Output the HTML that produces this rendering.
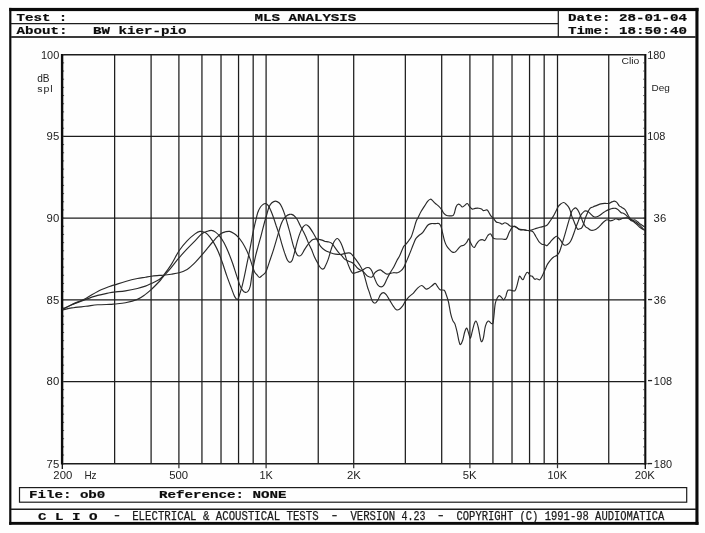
<!DOCTYPE html>
<html lang="en"><head><meta charset="utf-8"><title>MLS ANALYSIS</title>
<style>
html,body{margin:0;padding:0;background:#fff;}
body{width:705px;height:533px;overflow:hidden;}
svg{display:block;will-change:transform;transform:translateZ(0);}
.b,.t{white-space:pre;}
.b{font-family:"Liberation Mono",monospace;font-weight:bold;font-size:11.5px;fill:#0c0c0c;stroke:#0c0c0c;stroke-width:0.2px;}
.t{font-family:"Liberation Mono",monospace;font-weight:normal;font-size:12.3px;fill:#1a1a1a;stroke:#1a1a1a;stroke-width:0.25px;}
.s{font-family:"Liberation Sans",sans-serif;font-size:10.4px;fill:#222;}
</style></head><body>
<svg width="705" height="533" viewBox="0 0 705 533">
<rect x="0" y="0" width="705" height="533" fill="#fefefe"/>
<g fill="#0a0a0a">
<rect x="9.2" y="7.9" width="689.3" height="3.2"/>
<rect x="9.2" y="521.9" width="689.3" height="2.9"/>
<rect x="9.2" y="7.9" width="2.2" height="516.9"/>
<rect x="695.4" y="7.9" width="3.1" height="516.9"/>
</g>
<g stroke="#1c1c1c" fill="none">
<line x1="11" y1="23.6" x2="558.3" y2="23.6" stroke-width="1.2"/>
<line x1="11" y1="37" x2="696" y2="37" stroke-width="1.9" stroke="#3a3a3a"/>
<line x1="558.3" y1="10" x2="558.3" y2="37" stroke-width="1.25"/>
<line x1="11" y1="509.2" x2="696" y2="509.2" stroke-width="1.4"/>
<rect x="19.5" y="487.6" width="667.2" height="14.6" stroke-width="1.2"/>
</g>
<g stroke="#1c1c1c" stroke-width="1.25" fill="none">
<line x1="114.64" y1="54.70" x2="114.64" y2="463.70"/>
<line x1="151.10" y1="54.70" x2="151.10" y2="463.70"/>
<line x1="178.90" y1="54.70" x2="178.90" y2="463.70"/>
<line x1="201.94" y1="54.70" x2="201.94" y2="463.70"/>
<line x1="221.02" y1="54.70" x2="221.02" y2="463.70"/>
<line x1="238.55" y1="54.70" x2="238.55" y2="463.70"/>
<line x1="253.18" y1="54.70" x2="253.18" y2="463.70"/>
<line x1="266.10" y1="54.70" x2="266.10" y2="463.70"/>
<line x1="318.24" y1="54.70" x2="318.24" y2="463.70"/>
<line x1="353.70" y1="54.70" x2="353.70" y2="463.70"/>
<line x1="405.34" y1="54.70" x2="405.34" y2="463.70"/>
<line x1="441.70" y1="54.70" x2="441.70" y2="463.70"/>
<line x1="469.90" y1="54.70" x2="469.90" y2="463.70"/>
<line x1="492.94" y1="54.70" x2="492.94" y2="463.70"/>
<line x1="512.02" y1="54.70" x2="512.02" y2="463.70"/>
<line x1="529.55" y1="54.70" x2="529.55" y2="463.70"/>
<line x1="544.18" y1="54.70" x2="544.18" y2="463.70"/>
<line x1="557.50" y1="54.70" x2="557.50" y2="463.70"/>
<line x1="608.74" y1="54.70" x2="608.74" y2="463.70"/>
<line x1="63.10" y1="136.40" x2="645.10" y2="136.40"/>
<line x1="63.10" y1="218.10" x2="645.10" y2="218.10"/>
<line x1="63.10" y1="299.80" x2="645.10" y2="299.80"/>
<line x1="63.10" y1="381.50" x2="645.10" y2="381.50"/>
<line x1="62.10" y1="54.70" x2="646.10" y2="54.70" stroke-width="1.4"/>
<line x1="62.10" y1="463.70" x2="646.10" y2="463.70" stroke-width="1.4"/>
</g>
<g stroke="#0d0d0d" stroke-width="2.1" fill="none">
<line x1="62.1" y1="54.00" x2="62.1" y2="464.40" stroke-width="2.4"/>
<line x1="645.3" y1="54.00" x2="645.3" y2="464.40"/>
<line x1="62.3" y1="463.70" x2="62.3" y2="469.10" stroke-width="1.3"/>
<line x1="645.3" y1="463.70" x2="645.3" y2="469.10" stroke-width="1.3"/>
</g>
<g stroke="#333" stroke-width="0.9" fill="none">
<line x1="63" y1="54.70" x2="64.1" y2="54.70"/>
<line x1="643.3" y1="54.70" x2="644.5" y2="54.70"/>
<line x1="63" y1="62.87" x2="64.1" y2="62.87"/>
<line x1="643.3" y1="62.87" x2="644.5" y2="62.87"/>
<line x1="63" y1="71.04" x2="64.1" y2="71.04"/>
<line x1="643.3" y1="71.04" x2="644.5" y2="71.04"/>
<line x1="63" y1="79.21" x2="64.1" y2="79.21"/>
<line x1="643.3" y1="79.21" x2="644.5" y2="79.21"/>
<line x1="63" y1="87.38" x2="64.1" y2="87.38"/>
<line x1="643.3" y1="87.38" x2="644.5" y2="87.38"/>
<line x1="63" y1="95.55" x2="64.1" y2="95.55"/>
<line x1="643.3" y1="95.55" x2="644.5" y2="95.55"/>
<line x1="63" y1="103.72" x2="64.1" y2="103.72"/>
<line x1="643.3" y1="103.72" x2="644.5" y2="103.72"/>
<line x1="63" y1="111.89" x2="64.1" y2="111.89"/>
<line x1="643.3" y1="111.89" x2="644.5" y2="111.89"/>
<line x1="63" y1="120.06" x2="64.1" y2="120.06"/>
<line x1="643.3" y1="120.06" x2="644.5" y2="120.06"/>
<line x1="63" y1="128.23" x2="64.1" y2="128.23"/>
<line x1="643.3" y1="128.23" x2="644.5" y2="128.23"/>
<line x1="63" y1="136.40" x2="64.1" y2="136.40"/>
<line x1="643.3" y1="136.40" x2="644.5" y2="136.40"/>
<line x1="63" y1="144.57" x2="64.1" y2="144.57"/>
<line x1="643.3" y1="144.57" x2="644.5" y2="144.57"/>
<line x1="63" y1="152.74" x2="64.1" y2="152.74"/>
<line x1="643.3" y1="152.74" x2="644.5" y2="152.74"/>
<line x1="63" y1="160.91" x2="64.1" y2="160.91"/>
<line x1="643.3" y1="160.91" x2="644.5" y2="160.91"/>
<line x1="63" y1="169.08" x2="64.1" y2="169.08"/>
<line x1="643.3" y1="169.08" x2="644.5" y2="169.08"/>
<line x1="63" y1="177.25" x2="64.1" y2="177.25"/>
<line x1="643.3" y1="177.25" x2="644.5" y2="177.25"/>
<line x1="63" y1="185.42" x2="64.1" y2="185.42"/>
<line x1="643.3" y1="185.42" x2="644.5" y2="185.42"/>
<line x1="63" y1="193.59" x2="64.1" y2="193.59"/>
<line x1="643.3" y1="193.59" x2="644.5" y2="193.59"/>
<line x1="63" y1="201.76" x2="64.1" y2="201.76"/>
<line x1="643.3" y1="201.76" x2="644.5" y2="201.76"/>
<line x1="63" y1="209.93" x2="64.1" y2="209.93"/>
<line x1="643.3" y1="209.93" x2="644.5" y2="209.93"/>
<line x1="63" y1="218.10" x2="64.1" y2="218.10"/>
<line x1="643.3" y1="218.10" x2="644.5" y2="218.10"/>
<line x1="63" y1="226.27" x2="64.1" y2="226.27"/>
<line x1="643.3" y1="226.27" x2="644.5" y2="226.27"/>
<line x1="63" y1="234.44" x2="64.1" y2="234.44"/>
<line x1="643.3" y1="234.44" x2="644.5" y2="234.44"/>
<line x1="63" y1="242.61" x2="64.1" y2="242.61"/>
<line x1="643.3" y1="242.61" x2="644.5" y2="242.61"/>
<line x1="63" y1="250.78" x2="64.1" y2="250.78"/>
<line x1="643.3" y1="250.78" x2="644.5" y2="250.78"/>
<line x1="63" y1="258.95" x2="64.1" y2="258.95"/>
<line x1="643.3" y1="258.95" x2="644.5" y2="258.95"/>
<line x1="63" y1="267.12" x2="64.1" y2="267.12"/>
<line x1="643.3" y1="267.12" x2="644.5" y2="267.12"/>
<line x1="63" y1="275.29" x2="64.1" y2="275.29"/>
<line x1="643.3" y1="275.29" x2="644.5" y2="275.29"/>
<line x1="63" y1="283.46" x2="64.1" y2="283.46"/>
<line x1="643.3" y1="283.46" x2="644.5" y2="283.46"/>
<line x1="63" y1="291.63" x2="64.1" y2="291.63"/>
<line x1="643.3" y1="291.63" x2="644.5" y2="291.63"/>
<line x1="63" y1="299.80" x2="64.1" y2="299.80"/>
<line x1="643.3" y1="299.80" x2="644.5" y2="299.80"/>
<line x1="63" y1="307.97" x2="64.1" y2="307.97"/>
<line x1="643.3" y1="307.97" x2="644.5" y2="307.97"/>
<line x1="63" y1="316.14" x2="64.1" y2="316.14"/>
<line x1="643.3" y1="316.14" x2="644.5" y2="316.14"/>
<line x1="63" y1="324.31" x2="64.1" y2="324.31"/>
<line x1="643.3" y1="324.31" x2="644.5" y2="324.31"/>
<line x1="63" y1="332.48" x2="64.1" y2="332.48"/>
<line x1="643.3" y1="332.48" x2="644.5" y2="332.48"/>
<line x1="63" y1="340.65" x2="64.1" y2="340.65"/>
<line x1="643.3" y1="340.65" x2="644.5" y2="340.65"/>
<line x1="63" y1="348.82" x2="64.1" y2="348.82"/>
<line x1="643.3" y1="348.82" x2="644.5" y2="348.82"/>
<line x1="63" y1="356.99" x2="64.1" y2="356.99"/>
<line x1="643.3" y1="356.99" x2="644.5" y2="356.99"/>
<line x1="63" y1="365.16" x2="64.1" y2="365.16"/>
<line x1="643.3" y1="365.16" x2="644.5" y2="365.16"/>
<line x1="63" y1="373.33" x2="64.1" y2="373.33"/>
<line x1="643.3" y1="373.33" x2="644.5" y2="373.33"/>
<line x1="63" y1="381.50" x2="64.1" y2="381.50"/>
<line x1="643.3" y1="381.50" x2="644.5" y2="381.50"/>
<line x1="63" y1="389.67" x2="64.1" y2="389.67"/>
<line x1="643.3" y1="389.67" x2="644.5" y2="389.67"/>
<line x1="63" y1="397.84" x2="64.1" y2="397.84"/>
<line x1="643.3" y1="397.84" x2="644.5" y2="397.84"/>
<line x1="63" y1="406.01" x2="64.1" y2="406.01"/>
<line x1="643.3" y1="406.01" x2="644.5" y2="406.01"/>
<line x1="63" y1="414.18" x2="64.1" y2="414.18"/>
<line x1="643.3" y1="414.18" x2="644.5" y2="414.18"/>
<line x1="63" y1="422.35" x2="64.1" y2="422.35"/>
<line x1="643.3" y1="422.35" x2="644.5" y2="422.35"/>
<line x1="63" y1="430.52" x2="64.1" y2="430.52"/>
<line x1="643.3" y1="430.52" x2="644.5" y2="430.52"/>
<line x1="63" y1="438.69" x2="64.1" y2="438.69"/>
<line x1="643.3" y1="438.69" x2="644.5" y2="438.69"/>
<line x1="63" y1="446.86" x2="64.1" y2="446.86"/>
<line x1="643.3" y1="446.86" x2="644.5" y2="446.86"/>
<line x1="63" y1="455.03" x2="64.1" y2="455.03"/>
<line x1="643.3" y1="455.03" x2="644.5" y2="455.03"/>
<line x1="63" y1="463.70" x2="64.1" y2="463.70"/>
<line x1="643.3" y1="463.70" x2="644.5" y2="463.70"/>
<line x1="178.90" y1="463.70" x2="178.90" y2="468.20" stroke-width="1.25"/>
<line x1="266.10" y1="463.70" x2="266.10" y2="468.20" stroke-width="1.25"/>
<line x1="353.70" y1="463.70" x2="353.70" y2="468.20" stroke-width="1.25"/>
<line x1="469.90" y1="463.70" x2="469.90" y2="468.20" stroke-width="1.25"/>
<line x1="557.50" y1="463.70" x2="557.50" y2="468.20" stroke-width="1.25"/>
<line x1="646" y1="463.70" x2="649" y2="463.70"/>
</g>
<g stroke="#2a2a2a" stroke-width="1.15" fill="none" stroke-linejoin="round" stroke-linecap="round">
<path d="M63.0,309.3 C64.5,308.6 68.1,306.5 71.9,304.8 C75.7,303.1 81.5,301.0 85.8,299.4 C90.1,297.8 93.7,296.5 97.7,295.4 C101.7,294.3 106.8,293.4 109.6,292.8 C112.4,292.2 111.9,292.3 114.6,292.0 C117.2,291.7 121.7,291.5 125.5,290.9 C129.3,290.3 134.1,289.3 137.4,288.5 C140.7,287.7 143.1,286.9 145.4,286.1 C147.7,285.3 149.0,284.6 151.3,283.5 C153.6,282.4 157.3,280.8 159.3,279.5 C161.3,278.2 161.3,278.1 163.3,275.6 C165.3,273.1 168.6,268.8 171.2,264.6 C173.8,260.5 176.4,254.7 179.1,250.7 C181.8,246.7 184.4,243.6 187.1,240.8 C189.8,238.0 192.9,235.5 195.0,233.9 C197.1,232.3 198.1,231.6 199.9,231.4 C201.7,231.2 203.9,231.9 205.6,232.8 C207.3,233.8 208.5,235.3 209.9,237.1 C211.3,238.9 212.7,240.9 214.1,243.4 C215.5,245.9 217.0,248.7 218.4,252.0 C219.8,255.3 221.2,259.3 222.6,263.3 C224.0,267.3 225.5,272.1 226.9,276.1 C228.3,280.1 229.8,284.0 231.1,287.4 C232.4,290.8 233.6,294.6 234.7,296.6 C235.8,298.6 236.7,299.9 237.5,299.5 C238.3,299.1 238.8,297.0 239.6,294.5 C240.4,292.0 241.6,288.4 242.5,284.6 C243.4,280.8 244.4,276.3 245.3,271.8 C246.2,267.3 247.2,262.3 248.2,257.6 C249.1,252.9 250.2,247.7 251.0,243.4 C251.8,239.2 252.3,235.8 253.1,232.1 C253.9,228.4 254.8,224.4 255.6,221.2 C256.4,218.0 256.9,215.1 257.7,212.7 C258.5,210.3 259.6,208.4 260.5,207.0 C261.4,205.6 262.6,204.8 263.4,204.2 C264.2,203.6 264.7,203.3 265.5,203.5 C266.3,203.7 267.5,204.5 268.3,205.6 C269.1,206.7 269.7,208.0 270.5,209.9 C271.3,211.8 272.4,214.4 273.3,217.0 C274.2,219.6 275.2,222.7 276.1,225.5 C277.1,228.3 278.1,230.9 279.0,234.0 C279.9,237.1 280.9,240.8 281.8,243.9 C282.7,247.1 283.7,250.2 284.6,252.9 C285.6,255.6 286.6,258.7 287.5,260.3 C288.4,261.9 289.1,262.4 289.9,262.4 C290.7,262.4 291.4,262.1 292.2,260.3 C293.0,258.5 293.9,254.7 294.8,251.5 C295.7,248.3 296.5,244.2 297.4,241.1 C298.3,237.9 299.2,235.0 300.2,232.6 C301.1,230.2 302.2,228.2 303.1,226.9 C304.1,225.6 304.9,224.9 305.9,224.8 C306.8,224.7 307.5,225.1 308.8,226.5 C310.1,227.9 312.0,231.0 313.5,233.5 C315.0,236.0 316.6,239.2 317.8,241.3 C319.0,243.4 319.4,244.8 320.6,246.3 C321.8,247.8 323.2,249.1 324.9,250.2 C326.5,251.3 328.7,252.0 330.5,252.7 C332.3,253.3 333.8,253.8 335.5,254.1 C337.2,254.4 338.9,254.6 340.5,254.5 C342.1,254.4 343.5,253.7 344.9,253.4 C346.3,253.1 347.8,252.8 348.9,252.9 C350.0,253.0 350.5,253.2 351.3,253.9 C352.1,254.6 352.9,255.7 353.8,256.9 C354.7,258.1 355.8,259.5 356.8,260.9 C357.8,262.3 358.9,263.8 359.8,265.3 C360.7,266.8 361.6,268.4 362.3,269.8 C363.0,271.2 363.2,272.0 363.8,273.8 C364.4,275.6 365.2,278.5 365.8,280.8 C366.4,283.1 367.1,285.9 367.7,287.7 C368.3,289.5 368.5,289.8 369.2,291.9 C369.9,294.0 371.1,298.5 372.0,300.4 C372.9,302.3 373.9,303.2 374.9,303.2 C375.8,303.2 376.8,301.8 377.7,300.4 C378.6,299.0 379.6,296.0 380.5,294.7 C381.4,293.4 382.4,292.6 383.4,292.6 C384.3,292.6 385.1,293.4 386.2,294.7 C387.3,296.0 388.6,298.5 389.8,300.4 C391.0,302.3 392.2,304.6 393.3,306.1 C394.4,307.6 395.2,309.0 396.1,309.6 C397.1,310.2 397.9,310.2 399.0,309.6 C400.1,309.0 401.4,307.5 402.5,306.1 C403.6,304.7 404.3,302.7 405.4,301.1 C406.5,299.6 407.6,298.1 408.9,296.8 C410.2,295.5 411.8,294.7 413.2,293.3 C414.6,291.9 416.0,289.6 417.4,288.3 C418.8,287.0 420.3,285.4 421.7,285.5 C423.1,285.6 424.7,288.5 425.9,289.0 C427.1,289.5 427.7,288.9 428.8,288.3 C429.9,287.7 431.2,286.3 432.3,285.5 C433.4,284.7 434.3,283.3 435.1,283.4 C435.9,283.5 436.5,285.1 437.3,286.2 C438.1,287.3 439.0,289.1 440.1,289.8 C441.2,290.5 443.2,289.5 444.2,290.3 C445.2,291.1 445.6,292.9 446.3,294.9 C447.0,296.8 447.8,298.9 448.5,302.0 C449.2,305.1 449.9,310.2 450.6,313.3 C451.3,316.4 452.0,318.6 452.7,320.4 C453.4,322.2 454.2,322.0 454.9,323.9 C455.6,325.8 456.3,328.7 457.0,331.7 C457.7,334.7 458.5,339.6 459.1,341.7 C459.7,343.8 459.9,344.8 460.5,344.5 C461.1,344.2 462.0,342.3 462.7,340.2 C463.4,338.1 464.1,333.7 464.8,331.7 C465.5,329.7 466.2,327.7 466.9,328.2 C467.6,328.7 468.4,333.0 469.0,334.6 C469.6,336.2 470.0,338.6 470.5,338.1 C471.0,337.6 471.6,333.9 472.2,331.7 C472.8,329.4 473.4,326.4 474.0,324.6 C474.6,322.8 475.4,320.6 476.1,321.1 C476.8,321.6 477.6,324.6 478.3,327.5 C479.0,330.4 479.8,336.4 480.4,338.8 C481.0,341.2 481.3,341.9 481.8,341.7 C482.3,341.5 482.9,340.0 483.5,337.4 C484.1,334.8 484.6,328.8 485.4,326.1 C486.2,323.4 487.3,321.6 488.2,321.1 C489.1,320.6 490.2,322.9 491.0,323.2 C491.8,323.5 492.4,324.4 492.9,323.2 C493.4,322.0 493.5,319.4 493.9,316.1 C494.3,312.8 494.7,306.5 495.3,303.4 C495.9,300.3 496.7,299.0 497.4,297.7 C498.1,296.4 498.8,295.6 499.5,295.6 C500.2,295.6 501.0,297.0 501.7,297.7 C502.4,298.4 503.1,300.0 503.8,299.8 C504.5,299.6 505.4,297.3 505.9,296.3 C506.3,295.3 506.1,294.7 506.5,293.7 C506.9,292.7 507.2,290.9 508.0,290.3 C508.8,289.7 509.9,290.2 511.0,290.3 C512.1,290.4 513.9,291.6 514.9,290.8 C515.9,290.1 516.2,288.0 516.9,285.8 C517.6,283.6 518.4,279.4 518.9,277.8 C519.4,276.2 519.2,276.0 519.9,276.3 C520.6,276.6 522.1,279.9 522.9,279.8 C523.7,279.7 524.2,277.0 524.9,275.8 C525.6,274.6 526.3,272.9 526.9,272.4 C527.5,271.9 527.8,272.3 528.4,272.9 C529.0,273.5 529.6,275.2 530.3,275.8 C530.9,276.4 531.5,275.7 532.3,276.3 C533.0,276.9 534.0,278.9 534.8,279.3 C535.5,279.7 536.0,278.7 536.8,278.8 C537.6,278.9 539.0,280.1 539.8,279.8 C540.6,279.5 541.1,278.0 541.8,276.8 C542.5,275.6 543.1,273.9 543.8,272.4 C544.5,270.9 545.1,269.3 545.8,267.9 C546.4,266.5 546.9,265.2 547.7,263.9 C548.5,262.6 549.7,261.0 550.7,259.9 C551.7,258.8 552.7,257.7 553.7,257.0 C554.7,256.3 555.8,256.2 556.7,255.5 C557.6,254.8 558.5,253.8 559.2,252.5 C559.9,251.2 560.2,249.8 560.8,248.0 C561.4,246.2 562.1,243.9 562.8,241.7 C563.5,239.5 564.1,237.1 564.8,234.8 C565.5,232.5 566.1,230.1 566.8,227.8 C567.5,225.5 568.2,222.8 568.8,220.8 C569.4,218.8 569.8,217.5 570.3,215.9 C570.8,214.3 571.1,212.6 571.7,211.4 C572.3,210.2 573.0,209.5 573.7,208.9 C574.4,208.3 575.0,207.7 575.7,207.9 C576.4,208.1 577.0,208.9 577.7,209.9 C578.4,210.9 579.0,212.4 579.7,213.9 C580.4,215.4 581.0,217.2 581.7,218.9 C582.4,220.6 583.0,222.5 583.7,223.8 C584.4,225.1 585.0,226.1 585.7,226.8 C586.4,227.6 587.1,227.7 588.0,228.3 C588.9,228.9 589.9,230.1 591.0,230.3 C592.1,230.6 593.8,230.2 594.9,229.8 C596.0,229.4 596.9,228.6 597.9,227.8 C598.9,227.0 599.9,225.8 600.9,224.8 C601.9,223.8 602.9,222.6 603.9,221.8 C604.9,221.0 605.9,220.0 606.9,219.8 C607.9,219.6 608.9,220.7 609.9,220.8 C610.9,220.9 611.8,220.6 612.8,220.3 C613.8,220.0 614.7,218.9 615.8,218.8 C616.9,218.7 618.1,219.9 619.3,219.8 C620.5,219.7 621.6,218.6 622.8,218.3 C624.0,218.0 625.6,217.6 626.7,217.8 C627.9,218.0 628.9,218.8 629.7,219.3 C630.5,219.8 630.9,220.7 631.7,220.8 C632.5,220.9 633.7,219.6 634.7,219.8 C635.7,220.0 636.7,221.1 637.7,221.8 C638.7,222.6 639.7,223.6 640.7,224.3 C641.7,225.1 643.0,225.9 643.6,226.3 C644.2,226.7 644.4,226.7 644.6,226.8"/>
<path d="M63.0,309.9 C64.5,309.6 68.1,308.5 71.9,307.9 C75.7,307.3 81.5,306.8 85.8,306.3 C90.1,305.8 93.7,305.1 97.7,304.8 C101.7,304.5 106.8,304.5 109.6,304.4 C112.4,304.3 111.9,304.3 114.6,304.0 C117.2,303.7 121.7,303.6 125.5,302.8 C129.3,302.0 134.1,300.8 137.4,299.4 C140.7,298.0 143.1,296.0 145.4,294.4 C147.7,292.8 149.0,291.6 151.3,289.5 C153.6,287.4 157.3,283.6 159.3,281.5 C161.3,279.4 161.3,278.9 163.3,276.6 C165.3,274.3 168.6,270.8 171.2,267.6 C173.8,264.5 176.4,260.8 179.1,257.7 C181.8,254.6 184.4,251.6 187.1,248.8 C189.8,246.0 192.6,243.2 195.0,240.8 C197.4,238.4 199.3,235.8 201.3,234.2 C203.3,232.6 205.3,232.0 207.0,231.4 C208.7,230.8 209.9,230.3 211.3,230.4 C212.7,230.5 214.1,231.1 215.5,232.1 C216.9,233.1 218.4,234.5 219.8,236.3 C221.2,238.1 222.6,240.1 224.0,242.7 C225.4,245.3 226.9,248.6 228.3,252.0 C229.7,255.4 231.2,259.3 232.6,263.3 C234.0,267.3 235.6,272.6 236.8,276.1 C238.0,279.7 238.7,282.2 239.6,284.6 C240.5,287.0 241.6,288.9 242.5,290.2 C243.4,291.5 244.4,292.3 245.3,292.4 C246.2,292.5 247.4,292.1 248.2,291.0 C249.0,289.9 249.6,289.2 250.3,286.0 C251.0,282.8 251.6,276.5 252.4,271.8 C253.2,267.1 254.2,261.9 255.2,257.6 C256.1,253.4 257.2,249.9 258.1,246.3 C259.1,242.8 259.9,239.9 260.9,236.3 C261.8,232.8 262.9,228.5 263.8,225.0 C264.7,221.5 265.6,218.5 266.5,215.5 C267.4,212.5 268.1,209.1 269.0,207.0 C269.9,204.9 270.8,203.8 271.9,202.8 C273.0,201.8 274.2,201.1 275.4,201.1 C276.6,201.1 277.9,201.8 279.0,202.8 C280.1,203.8 280.9,205.1 281.8,207.0 C282.7,208.9 283.7,211.3 284.6,214.1 C285.6,216.9 286.6,220.7 287.5,224.0 C288.4,227.3 289.4,230.4 290.3,234.0 C291.2,237.6 292.4,242.5 293.2,245.3 C294.0,248.1 294.6,249.3 295.3,251.0 C296.0,252.7 296.7,254.4 297.4,255.2 C298.1,256.0 298.8,256.1 299.5,256.0 C300.2,255.9 300.9,255.6 301.7,254.5 C302.5,253.4 303.6,251.1 304.5,249.6 C305.4,248.1 306.4,246.6 307.3,245.3 C308.2,244.0 309.2,242.8 310.2,241.8 C311.1,240.9 311.9,240.1 313.0,239.6 C314.1,239.1 315.4,238.9 316.6,238.9 C317.8,238.9 319.0,239.3 320.1,239.6 C321.2,239.9 322.6,240.3 323.4,240.6 C324.2,240.9 324.1,241.3 325.0,241.5 C325.9,241.7 327.8,241.7 329.0,242.0 C330.2,242.3 331.2,242.8 332.0,243.5 C332.8,244.2 333.2,245.1 333.9,246.0 C334.5,246.9 335.1,247.8 335.9,248.9 C336.7,250.1 337.9,251.7 338.9,252.9 C339.9,254.1 340.9,254.8 341.9,255.9 C342.9,257.0 343.9,258.6 344.9,259.4 C345.9,260.2 346.9,260.4 347.9,260.9 C348.9,261.3 349.8,261.6 350.8,262.1 C351.8,262.6 352.8,263.0 353.8,263.9 C354.8,264.8 355.8,266.3 356.8,267.3 C357.8,268.3 358.9,269.2 359.8,269.8 C360.7,270.4 361.2,270.0 362.1,270.6 C363.0,271.2 363.9,272.4 364.9,273.4 C365.8,274.3 366.6,275.7 367.8,276.3 C369.0,276.9 370.8,277.6 372.0,277.0 C373.2,276.4 373.9,273.8 374.9,272.7 C375.8,271.6 376.8,271.1 377.7,270.6 C378.6,270.1 379.6,269.7 380.5,269.9 C381.4,270.1 382.3,271.3 383.4,272.0 C384.5,272.7 385.7,273.9 386.9,274.1 C388.1,274.3 389.4,273.6 390.5,273.4 C391.6,273.2 392.1,272.8 393.3,272.7 C394.5,272.6 396.3,273.0 397.6,272.7 C398.9,272.4 400.1,271.5 401.1,270.6 C402.2,269.7 403.1,268.5 403.9,267.1 C404.7,265.7 405.4,263.8 406.1,262.1 C406.9,260.4 407.5,258.8 408.4,256.7 C409.3,254.6 410.4,252.0 411.3,249.6 C412.2,247.2 413.3,244.4 414.1,242.5 C414.9,240.6 415.2,239.5 416.2,238.2 C417.1,236.9 418.7,235.6 419.8,234.7 C420.9,233.8 421.7,233.7 422.6,232.6 C423.6,231.5 424.6,229.6 425.5,228.3 C426.4,227.0 427.4,225.6 428.3,224.8 C429.2,224.0 429.9,223.8 431.1,223.6 C432.3,223.4 434.1,223.6 435.4,223.6 C436.7,223.6 437.9,223.0 438.9,223.6 C439.8,224.2 440.5,225.4 441.1,226.9 C441.7,228.4 441.9,230.2 442.5,232.6 C443.1,235.0 443.9,238.9 444.6,241.1 C445.3,243.3 445.9,244.6 446.7,246.0 C447.5,247.4 448.7,248.6 449.6,249.6 C450.6,250.6 451.5,251.7 452.4,252.1 C453.3,252.5 454.2,252.6 455.2,252.1 C456.1,251.6 457.2,249.9 458.1,248.9 C459.1,247.9 459.9,246.6 460.9,246.0 C461.8,245.4 462.9,245.9 463.8,245.3 C464.8,244.7 465.8,243.6 466.6,242.5 C467.4,241.4 468.1,239.0 468.7,238.9 C469.3,238.8 469.5,240.6 470.1,241.8 C470.7,243.0 471.6,245.1 472.3,246.0 C473.0,246.9 473.7,247.8 474.4,247.4 C475.1,247.1 475.7,245.1 476.5,243.9 C477.3,242.7 478.4,241.1 479.4,240.4 C480.3,239.7 481.3,239.6 482.2,239.6 C483.1,239.6 484.1,241.1 485.0,240.4 C485.9,239.7 486.9,236.6 487.8,235.5 C488.8,234.4 489.8,233.5 490.7,234.0 C491.6,234.5 492.3,237.5 493.5,238.3 C494.7,239.1 496.4,238.9 497.8,239.0 C499.2,239.1 500.6,239.0 502.0,239.0 C503.4,239.0 505.1,240.1 506.3,239.0 C507.5,237.9 508.2,234.5 509.1,232.6 C510.1,230.7 511.2,228.8 512.0,227.7 C512.8,226.6 513.4,226.3 514.1,226.2 C514.8,226.1 515.4,226.5 516.2,227.0 C517.0,227.5 517.8,228.6 519.0,229.1 C520.2,229.6 521.9,229.6 523.3,229.8 C524.7,230.0 526.5,230.3 527.6,230.5 C528.7,230.7 529.1,230.6 530.0,230.8 C530.9,231.0 532.0,230.8 533.0,231.8 C534.0,232.8 535.0,235.0 536.0,236.7 C537.0,238.3 537.9,240.4 538.9,241.7 C539.9,242.9 540.9,243.7 541.9,244.2 C542.9,244.7 544.1,244.4 544.9,244.7 C545.7,244.9 546.2,245.9 546.9,245.7 C547.6,245.5 548.1,244.6 548.9,243.7 C549.7,242.8 550.9,241.3 551.9,240.2 C552.9,239.1 554.1,237.8 554.9,237.2 C555.7,236.5 556.1,236.1 556.8,236.3 C557.4,236.5 558.1,237.5 558.8,238.2 C559.5,238.9 560.1,239.8 560.8,240.7 C561.5,241.6 562.1,242.9 562.8,243.7 C563.5,244.4 564.0,245.1 564.8,245.2 C565.6,245.3 566.9,244.8 567.8,244.2 C568.7,243.6 569.6,242.8 570.3,241.7 C571.0,240.6 571.6,239.3 572.2,237.7 C572.9,236.1 573.6,234.0 574.2,232.3 C574.8,230.7 575.1,229.4 575.7,227.8 C576.3,226.2 577.0,224.5 577.7,222.8 C578.4,221.1 579.0,218.9 579.7,217.4 C580.4,215.9 581.0,214.9 581.7,213.9 C582.5,212.9 583.7,211.9 584.2,211.4 C584.8,210.9 584.4,210.9 585.0,210.9 C585.6,210.9 587.0,210.8 588.0,211.4 C589.0,212.0 590.0,213.5 591.0,214.4 C592.0,215.3 592.9,216.4 593.9,216.8 C594.9,217.2 595.9,217.1 596.9,216.8 C597.9,216.6 598.9,216.0 599.9,215.3 C600.9,214.7 601.9,213.6 602.9,212.9 C603.9,212.2 604.8,211.5 605.9,210.9 C607.0,210.3 608.2,209.8 609.4,209.4 C610.5,209.0 611.7,208.6 612.8,208.4 C613.9,208.2 614.9,208.2 615.8,208.4 C616.7,208.7 617.5,209.2 618.3,209.9 C619.1,210.6 619.9,211.8 620.8,212.4 C621.7,213.0 623.0,213.0 623.8,213.4 C624.6,213.8 625.1,214.3 625.8,214.9 C626.4,215.5 626.9,216.0 627.7,216.8 C628.5,217.6 629.7,219.0 630.7,219.8 C631.7,220.6 632.7,221.1 633.7,221.8 C634.7,222.6 635.7,223.4 636.7,224.3 C637.7,225.2 638.7,226.5 639.7,227.3 C640.7,228.1 641.9,228.8 642.7,229.3 C643.5,229.8 644.3,230.1 644.6,230.3"/>
<path d="M63.0,308.7 C64.5,308.0 68.1,306.1 71.9,304.4 C75.7,302.7 81.5,300.6 85.8,298.4 C90.1,296.2 93.7,293.4 97.7,291.4 C101.7,289.4 106.8,287.6 109.6,286.5 C112.4,285.4 111.9,285.7 114.6,284.9 C117.2,284.1 121.7,282.6 125.5,281.5 C129.3,280.4 134.1,279.2 137.4,278.5 C140.7,277.8 143.1,277.6 145.4,277.2 C147.7,276.8 149.0,276.5 151.3,276.2 C153.6,275.9 157.3,275.6 159.3,275.4 C161.3,275.2 161.3,275.4 163.3,275.2 C165.3,275.0 168.6,274.6 171.2,274.2 C173.8,273.8 176.4,273.6 179.1,272.8 C181.8,272.0 185.1,270.5 187.1,269.4 C189.1,268.3 189.6,267.7 191.0,266.4 C192.4,265.1 194.0,263.6 195.7,261.8 C197.4,260.0 199.4,257.8 201.3,255.6 C203.2,253.4 205.1,251.1 207.0,248.8 C208.9,246.5 211.0,243.9 212.7,242.0 C214.4,240.1 215.6,238.5 217.0,237.1 C218.4,235.7 219.8,234.4 221.2,233.5 C222.6,232.6 224.1,232.2 225.5,231.8 C226.9,231.5 228.3,231.1 229.7,231.4 C231.1,231.7 232.6,232.6 234.0,233.5 C235.4,234.4 236.8,235.6 238.2,237.1 C239.6,238.6 241.1,240.5 242.5,242.7 C243.9,244.9 245.5,248.0 246.7,250.5 C247.9,253.0 248.6,255.0 249.6,257.6 C250.6,260.2 251.6,263.7 252.4,266.1 C253.2,268.5 253.7,270.2 254.5,271.8 C255.3,273.4 256.6,274.4 257.4,275.4 C258.2,276.3 258.7,277.5 259.5,277.5 C260.3,277.5 261.2,276.3 262.3,275.4 C263.4,274.4 264.7,274.1 265.9,271.8 C267.1,269.6 268.1,265.7 269.4,261.9 C270.7,258.1 272.3,253.6 273.7,249.1 C275.1,244.6 276.7,238.9 277.9,234.9 C279.1,230.9 279.9,227.5 280.8,225.0 C281.7,222.5 282.3,221.3 283.2,219.8 C284.1,218.3 285.0,217.1 286.1,216.2 C287.2,215.3 288.7,214.7 289.6,214.4 C290.5,214.1 290.9,214.1 291.7,214.4 C292.5,214.7 293.7,215.3 294.6,216.2 C295.6,217.1 296.5,218.2 297.4,219.8 C298.3,221.4 299.2,223.6 300.2,225.5 C301.1,227.4 302.2,229.2 303.1,231.1 C304.1,233.0 304.9,234.7 305.9,236.8 C306.8,238.9 307.9,241.8 308.8,243.9 C309.8,246.0 310.7,247.5 311.6,249.6 C312.5,251.7 313.4,254.6 314.4,256.7 C315.3,258.8 316.4,260.7 317.3,262.3 C318.2,263.9 318.7,265.4 319.5,266.5 C320.3,267.6 321.2,268.7 322.0,269.0 C322.8,269.3 323.5,268.9 324.0,268.5 C324.5,268.1 324.3,268.2 325.0,266.8 C325.7,265.4 327.0,262.7 328.0,259.9 C329.0,257.1 330.0,252.9 331.0,249.9 C332.0,246.9 332.8,243.9 333.9,242.0 C335.0,240.1 336.2,238.3 337.4,238.5 C338.6,238.7 339.8,240.9 340.9,243.0 C342.0,245.1 342.9,247.9 343.9,250.9 C344.9,253.9 345.9,257.9 346.9,260.9 C347.9,263.9 349.0,266.8 349.9,268.8 C350.8,270.8 351.6,272.1 352.3,272.8 C353.0,273.6 353.1,273.4 353.8,273.3 C354.6,273.2 355.8,272.6 356.8,272.3 C357.8,272.0 358.9,271.6 359.8,271.3 C360.7,271.0 361.2,270.9 362.3,270.3 C363.4,269.7 365.2,268.2 366.3,267.8 C367.4,267.4 368.2,267.2 369.2,267.8 C370.1,268.4 371.1,269.4 372.0,271.3 C372.9,273.2 373.9,276.9 374.9,279.1 C375.8,281.4 376.6,283.5 377.7,284.8 C378.8,286.1 380.1,286.9 381.2,286.9 C382.3,286.9 383.2,286.1 384.1,284.8 C385.1,283.5 385.9,281.0 386.9,279.1 C387.8,277.2 388.7,275.3 389.8,273.4 C390.9,271.5 392.1,269.9 393.3,267.8 C394.5,265.7 395.7,262.8 396.8,260.7 C397.9,258.6 398.8,257.5 399.9,255.2 C401.0,252.9 402.6,248.5 403.5,246.7 C404.4,244.9 404.8,245.5 405.6,244.6 C406.4,243.7 407.4,242.4 408.4,241.1 C409.3,239.8 410.4,238.9 411.3,236.8 C412.2,234.7 413.3,230.9 414.1,228.3 C414.9,225.7 415.5,223.1 416.2,221.2 C416.9,219.3 417.6,218.7 418.4,217.0 C419.2,215.3 420.1,213.2 421.2,211.3 C422.3,209.4 423.7,207.3 424.8,205.6 C425.9,203.9 426.7,202.4 427.6,201.3 C428.5,200.2 429.6,199.3 430.4,199.2 C431.2,199.1 431.8,199.9 432.6,200.6 C433.4,201.3 434.3,202.6 435.4,203.5 C436.4,204.4 437.8,205.2 438.9,206.3 C440.0,207.4 441.0,208.7 441.8,209.9 C442.6,211.1 443.1,212.5 443.9,213.4 C444.7,214.3 445.6,215.1 446.7,215.5 C447.8,215.9 449.2,215.8 450.3,215.8 C451.4,215.8 452.4,216.0 453.1,215.5 C453.8,215.0 454.0,214.1 454.5,212.7 C455.0,211.3 455.4,208.4 456.0,207.0 C456.6,205.6 457.4,204.5 458.1,204.2 C458.8,203.8 459.5,204.4 460.2,204.9 C460.9,205.4 461.6,206.9 462.3,207.0 C463.0,207.1 463.7,206.2 464.5,205.6 C465.3,205.0 466.5,203.4 467.3,203.5 C468.1,203.6 468.6,205.4 469.4,206.3 C470.2,207.2 471.4,208.8 472.3,209.1 C473.2,209.4 474.0,208.6 475.1,208.4 C476.2,208.2 477.6,208.1 478.7,208.2 C479.8,208.3 480.7,208.7 481.5,209.1 C482.3,209.5 482.8,210.5 483.6,210.6 C484.4,210.7 485.8,209.9 486.5,209.9 C487.2,209.9 487.1,209.7 487.8,210.6 C488.5,211.5 489.8,214.3 490.7,215.6 C491.6,216.9 492.6,217.3 493.5,218.4 C494.4,219.5 495.4,221.3 496.3,222.0 C497.2,222.7 498.2,222.3 499.2,222.7 C500.1,223.0 501.1,224.1 502.0,224.1 C502.9,224.1 503.9,222.7 504.9,222.7 C505.8,222.7 506.8,223.5 507.7,224.1 C508.6,224.7 509.6,225.8 510.5,226.2 C511.4,226.5 512.3,225.9 513.4,226.2 C514.5,226.4 515.8,227.1 516.9,227.7 C518.0,228.3 518.7,229.5 519.8,229.8 C520.9,230.2 522.1,229.7 523.3,229.8 C524.5,229.9 525.7,230.4 526.8,230.5 C527.9,230.6 528.6,230.6 530.0,230.3 C531.4,230.0 533.4,229.3 535.0,228.8 C536.6,228.3 538.4,227.7 539.9,227.3 C541.4,226.9 542.7,226.6 543.9,226.3 C545.1,226.0 545.9,226.1 546.9,225.3 C547.9,224.5 548.9,222.7 549.9,221.3 C550.9,219.9 551.9,218.6 552.9,216.9 C553.9,215.2 554.9,213.2 555.8,211.4 C556.7,209.7 557.5,207.7 558.3,206.4 C559.1,205.2 559.9,204.6 560.8,203.9 C561.7,203.2 562.9,202.4 563.8,202.5 C564.7,202.6 565.5,203.6 566.3,204.4 C567.1,205.2 568.1,206.3 568.8,207.4 C569.5,208.5 569.8,209.5 570.3,210.9 C570.8,212.3 571.1,214.2 571.7,215.9 C572.3,217.6 573.0,219.2 573.7,220.8 C574.4,222.5 575.0,224.4 575.7,225.8 C576.4,227.2 577.0,228.8 577.7,229.3 C578.4,229.8 579.0,229.1 579.7,228.8 C580.4,228.6 581.0,228.6 581.7,227.8 C582.4,227.0 583.2,225.2 583.7,223.8 C584.2,222.4 584.5,220.8 585.0,219.2 C585.5,217.5 586.2,215.7 587.0,213.9 C587.8,212.1 589.0,209.6 590.0,208.4 C591.0,207.2 591.9,207.4 593.0,206.9 C594.1,206.4 595.6,205.9 596.9,205.4 C598.2,204.9 599.6,204.2 600.9,203.9 C602.2,203.6 603.6,203.5 604.9,203.4 C606.2,203.3 607.8,203.7 608.9,203.4 C610.0,203.2 610.9,202.3 611.8,201.9 C612.7,201.5 613.5,201.0 614.3,201.1 C615.1,201.2 616.0,201.6 616.8,202.4 C617.6,203.2 618.5,205.1 619.3,205.9 C620.1,206.7 620.9,206.8 621.8,207.4 C622.7,208.0 624.0,208.6 624.8,209.4 C625.6,210.2 626.1,211.2 626.7,212.4 C627.4,213.6 628.0,215.2 628.7,216.3 C629.4,217.4 629.9,218.1 630.7,218.8 C631.5,219.6 632.7,220.1 633.7,220.8 C634.7,221.5 635.7,222.1 636.7,222.8 C637.7,223.6 638.7,224.4 639.7,225.3 C640.7,226.2 641.9,227.6 642.7,228.3 C643.5,229.1 644.3,229.6 644.6,229.8"/>
</g>
<text class="b" x="16.40" y="20.50" textLength="51.00" lengthAdjust="spacingAndGlyphs" xml:space="preserve">Test :</text>
<text class="b" x="254.40" y="20.50" textLength="102.00" lengthAdjust="spacingAndGlyphs" xml:space="preserve">MLS ANALYSIS</text>
<text class="b" x="568.00" y="20.50" textLength="119.00" lengthAdjust="spacingAndGlyphs" xml:space="preserve">Date: 28-01-04</text>
<text class="b" x="16.40" y="34.20" textLength="170.00" lengthAdjust="spacingAndGlyphs" xml:space="preserve">About:   BW kier-pio</text>
<text class="b" x="568.00" y="34.20" textLength="119.00" lengthAdjust="spacingAndGlyphs" xml:space="preserve">Time: 18:50:40</text>
<text class="b" x="28.90" y="498.40" textLength="76.50" lengthAdjust="spacingAndGlyphs" xml:space="preserve">File: ob0</text>
<text class="b" x="159.00" y="498.40" textLength="127.50" lengthAdjust="spacingAndGlyphs" xml:space="preserve">Reference: NONE</text>
<text class="b" x="38.00" y="519.60" textLength="59.50" lengthAdjust="spacingAndGlyphs" xml:space="preserve">C L I O</text>
<text class="t" x="112.60" y="519.10" textLength="9.00" lengthAdjust="spacingAndGlyphs" xml:space="preserve">-</text>
<text class="t" x="132.20" y="519.60" textLength="186.47" lengthAdjust="spacingAndGlyphs" xml:space="preserve">ELECTRICAL &amp; ACOUSTICAL TESTS</text>
<text class="t" x="330.00" y="519.10" textLength="9.00" lengthAdjust="spacingAndGlyphs" xml:space="preserve">-</text>
<text class="t" x="350.40" y="519.60" textLength="44.80" lengthAdjust="spacingAndGlyphs" xml:space="preserve">VERSION</text>
<text class="t" x="401.60" y="519.60" textLength="24.00" lengthAdjust="spacingAndGlyphs" xml:space="preserve">4.23</text>
<text class="t" x="436.30" y="519.10" textLength="9.00" lengthAdjust="spacingAndGlyphs" xml:space="preserve">-</text>
<text class="t" x="456.50" y="519.60" textLength="207.90" lengthAdjust="spacingAndGlyphs" xml:space="preserve">COPYRIGHT (C) 1991-98 AUDIOMATICA</text>
<text class="s" transform="translate(59.20 58.50) scale(1.05 1)" text-anchor="end">100</text>
<text class="s" transform="translate(59.20 140.20) scale(1.09 1)" text-anchor="end">95</text>
<text class="s" transform="translate(59.20 221.90) scale(1.09 1)" text-anchor="end">90</text>
<text class="s" transform="translate(59.20 303.60) scale(1.09 1)" text-anchor="end">85</text>
<text class="s" transform="translate(59.20 385.30) scale(1.09 1)" text-anchor="end">80</text>
<text class="s" transform="translate(59.20 467.50) scale(1.09 1)" text-anchor="end">75</text>
<text class="s" transform="translate(647.20 58.50) scale(1.05 1)" text-anchor="start">180</text>
<text class="s" transform="translate(647.20 140.20) scale(1.05 1)" text-anchor="start">108</text>
<text class="s" transform="translate(653.60 221.90) scale(1.09 1)" text-anchor="start">36</text>
<text class="s" transform="translate(647.30 303.60) scale(1.05 1)" text-anchor="start"><tspan font-size="16">-</tspan><tspan dx="0.9">36</tspan></text>
<text class="s" transform="translate(647.30 385.30) scale(1.05 1)" text-anchor="start"><tspan font-size="16">-</tspan><tspan dx="0.9">108</tspan></text>
<text class="s" transform="translate(647.30 467.50) scale(1.05 1)" text-anchor="start"><tspan font-size="16">-</tspan><tspan dx="0.9">180</tspan></text>
<text class="s" style="font-size:10.1px;letter-spacing:0px" transform="translate(37.20 81.90) scale(1.0 1)">dB</text>
<text class="s" style="font-size:8.8px;letter-spacing:0.8px" transform="translate(37.20 91.70) scale(1.2 1)">spl</text>
<text class="s" style="font-size:8.2px;letter-spacing:0px" transform="translate(651.50 91.00) scale(1.22 1)">Deg</text>
<text class="s" style="font-size:9.9px;letter-spacing:0px" transform="translate(621.50 63.70) scale(1.05 1)">Clio</text>
<text class="s" transform="translate(62.80 479.00) scale(1.09 1)" text-anchor="middle">200</text>
<text class="s" transform="translate(178.60 479.00) scale(1.09 1)" text-anchor="middle">500</text>
<text class="s" transform="translate(266.20 479.00) scale(1.05 1)" text-anchor="middle">1K</text>
<text class="s" transform="translate(353.80 479.00) scale(1.09 1)" text-anchor="middle">2K</text>
<text class="s" transform="translate(469.60 479.00) scale(1.09 1)" text-anchor="middle">5K</text>
<text class="s" transform="translate(557.20 479.00) scale(1.05 1)" text-anchor="middle">10K</text>
<text class="s" transform="translate(644.80 479.00) scale(1.09 1)" text-anchor="middle">20K</text>
<text class="s" style="font-size:10.4px;letter-spacing:0px" transform="translate(84.40 479.00) scale(0.96 1)">Hz</text>
</svg></body></html>
